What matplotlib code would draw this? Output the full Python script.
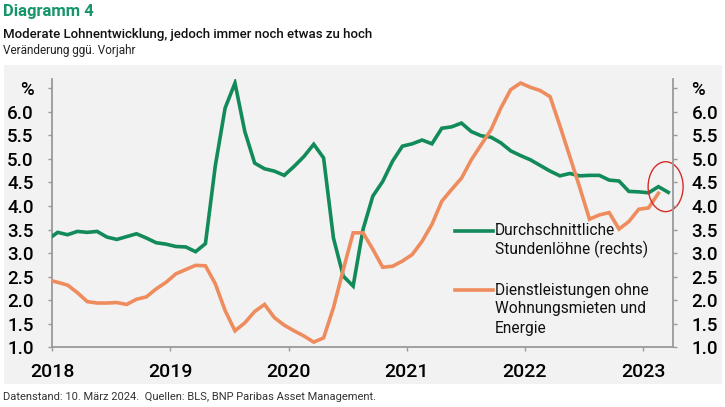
import numpy as np
import matplotlib
matplotlib.use("Agg")
import matplotlib.pyplot as plt
from matplotlib.patches import Ellipse, Rectangle

plt.rcParams["font.family"] = ["Roboto", "DejaVu Sans"]

# ----------------------------
# Data (monthly, y/y in %), Dec 2017 onwards
# ----------------------------
wages = [3.29, 3.44, 3.39, 3.46, 3.44, 3.46, 3.34, 3.29, 3.35, 3.41, 3.32, 3.22,
         3.19, 3.14, 3.13, 3.03, 3.20, 4.85, 6.08, 6.61, 5.58, 4.91, 4.79, 4.74,
         4.65, 4.84, 5.05, 5.31, 5.02, 3.32, 2.51, 2.30, 3.50, 4.21, 4.52, 4.95,
         5.27, 5.32, 5.40, 5.32, 5.65, 5.68, 5.76, 5.58, 5.49, 5.46, 5.34, 5.17,
         5.07, 4.98, 4.86, 4.74, 4.64, 4.69, 4.64, 4.65, 4.65, 4.55, 4.53, 4.31,
         4.30, 4.28, 4.41, 4.29]

services = [2.43, 2.38, 2.32, 2.16, 1.97, 1.94, 1.94, 1.95, 1.91, 2.02, 2.07, 2.24,
            2.38, 2.56, 2.65, 2.74, 2.73, 2.35, 1.78, 1.35, 1.52, 1.76, 1.91, 1.63,
            1.47, 1.35, 1.24, 1.11, 1.20, 1.84, 2.65, 3.43, 3.43, 3.08, 2.70, 2.72,
            2.83, 2.97, 3.25, 3.61, 4.10, 4.35, 4.59, 4.98, 5.30, 5.62, 6.08, 6.47,
            6.61, 6.52, 6.45, 6.32, 5.70, 5.05, 4.40, 3.72, 3.81, 3.86, 3.51, 3.67,
            3.93, 3.96, 4.27]

years = [2018, 2019, 2020, 2021, 2022, 2023]
yticks = [1.0, 1.5, 2.0, 2.5, 3.0, 3.5, 4.0, 4.5, 5.0, 5.5, 6.0, 6.5]
ytick_labels = ["1.0", "1.5", "2.0", "2.5", "3.0", "3.5", "4.0", "4.5",
                "5.0", "5.5", "6.0", "%"]

label_wages = ["Durchschnittliche", "Stundenlöhne (rechts)"]
label_services = ["Dienstleistungen ohne", "Wohnungsmieten und", "Energie"]

# month index -> decimal year (points sit mid-month)
x_w = 2018 + (np.arange(len(wages)) - 1 + 0.55) / 12
x_s = 2018 + (np.arange(len(services)) - 1 + 0.55) / 12

green = "#128a5a"
orange = "#ee8c5e"
bg = "#f2f2f2"
axis_grey = "#9a9a9a"

# ----------------------------
# Figure
# ----------------------------
W, H = 725, 407
fig = plt.figure(figsize=(W / 100, H / 100), dpi=100)
fig.patch.set_facecolor("white")


def fx(px):
    return px / W


def fy(py):
    return 1 - py / H


fig.patches.append(Rectangle((fx(4), fy(384)), fx(718), 319 / H,
                             transform=fig.transFigure, facecolor=bg,
                             edgecolor="none", zorder=-5))

ax = fig.add_axes([fx(52.3), fy(347.3), 620.4 / W, 268.5 / H])
ax.set_facecolor(bg)
ax.set_xlim(2018, 2023.25)
ax.set_ylim(1.0, 6.7)

ax.plot(x_w, wages, color=green, lw=2.6, solid_joinstyle="miter", zorder=3)
ax.plot(x_s, services, color=orange, lw=2.6, solid_joinstyle="miter", zorder=4)

ax2 = ax.twinx()
ax2.set_ylim(ax.get_ylim())

for a in (ax, ax2):
    a.set_yticks(yticks)
    a.set_yticklabels(ytick_labels, fontweight="medium")
    for s in a.spines.values():
        s.set_visible(False)
    a.tick_params(axis="y", length=3, width=1, color=axis_grey,
                  labelsize=13.5, pad=10.5, labelcolor="black")

ax.spines["left"].set_visible(True)
ax.spines["bottom"].set_visible(True)
ax2.spines["right"].set_visible(True)
for a, side in ((ax, "left"), (ax, "bottom"), (ax2, "right")):
    a.spines[side].set_color(axis_grey)
    a.spines[side].set_linewidth(1.3)

ax.set_xticks(years)
ax.set_xticklabels([str(y) for y in years], fontweight="medium")
ax.tick_params(axis="x", length=3, width=1, color=axis_grey,
               labelsize=14, pad=8)

# highlight ellipse around latest values
ax.add_patch(Ellipse((2023.19, 4.41), 0.296, 1.06, fill=False,
                     edgecolor="#d62b2b", lw=1, clip_on=False, zorder=5))

# ----------------------------
# Legend (drawn by hand)
# ----------------------------
def legend_entry(py, color, lines):
    fig.add_artist(plt.Line2D([fx(455), fx(493)], [fy(py), fy(py)],
                              color=color, lw=2.6, transform=fig.transFigure))
    for i, txt in enumerate(lines):
        fig.text(fx(495), fy(py + i * 19), txt, fontsize=11.2,
                 va="center", ha="left", color="#111111")


legend_entry(230.5, green, label_wages)
legend_entry(290, orange, label_services)

# ----------------------------
# Titles and footer
# ----------------------------
fig.text(fx(3), fy(16), "Diagramm 4", fontsize=12, fontweight="bold",
         color="#17956a", va="baseline")
fig.text(fx(3), fy(38), "Moderate Lohnentwicklung, jedoch immer noch etwas zu hoch",
         fontsize=9.5, fontweight="medium", color="#111111", va="baseline")
fig.text(fx(3), fy(54), "Veränderung ggü. Vorjahr", fontsize=8.5,
         color="#222222", va="baseline")
fig.text(fx(3), fy(400.5),
         "Datenstand: 10. März 2024.  Quellen: BLS, BNP Paribas Asset Management.",
         fontsize=8, color="#333333", va="baseline")

fig.savefig("out.png", dpi=100, facecolor=fig.get_facecolor())
